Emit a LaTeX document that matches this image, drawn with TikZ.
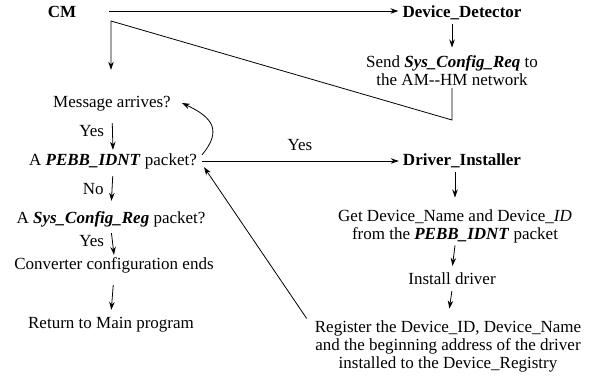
\documentclass[tikz,border=0pt]{standalone}
\usepackage{fontspec}
\setmainfont{Liberation Serif}
\usetikzlibrary{arrows.meta}
\newcommand{\bfit}[1]{\textbf{\textit{#1}}}
\begin{document}
\begin{tikzpicture}[x=1pt,y=-1pt,
  every node/.style={inner sep=2pt,font=\fontsize{17}{18}\selectfont},
  lbl/.style={text height=12pt,text depth=4pt},
  bold/.style={lbl,font=\fontsize{17}{18}\selectfont\bfseries},
  blk/.style={align=center,anchor=north},
  ln/.style={line width=0.8pt},
  arr/.style={ln,-{Stealth[length=8pt,width=5.5pt]}}]
\fill[white] (0,0) rectangle (596,381);
\useasboundingbox (0,0) rectangle (596,381);

% left column
\node[bold] (cm) at (62,13) {CM};
\node[lbl] (msg) at (112,103) {Message arrives?};
\node[lbl] (pebb) at (113,161) {A \bfit{PEBB\_IDNT} packet?};
\node[lbl] (sys) at (111,219) {A \bfit{Sys\_Config\_Reg} packet?};
\node[lbl] (conv) at (114,265) {Converter configuration ends};
\node[lbl] (ret) at (111,324) {Return to Main program};

% right column
\node[bold] (dd) at (462,13) {Device\_Detector};
\node[blk] (send) at (452,53.5) {Send \bfit{Sys\_Config\_Req} to\\the AM-{}-HM network};
\node[bold] (di) at (462,161) {Driver\_Installer};
\node[blk] (get) at (455,207.5) {Get Device\_Name and Device\_\textit{ID}\\from the \bfit{PEBB\_IDNT} packet};
\node[lbl] (inst) at (452,280) {Install driver};
\node[blk] (reg) at (448,318.5) {Register the Device\_ID, Device\_Name\\and the beginning address of the driver\\installed to the Device\_Registry};

% corners of the return path
\coordinate (r1) at (452,120);
\coordinate (r2) at (111,21);

% connectors
\draw[arr,shorten <=31pt,shorten >=2pt] ([yshift=2pt]cm.east) -- ([yshift=2pt]dd.west);
\draw[arr,shorten <=1pt,shorten >=6pt] (dd.south -| send.north) -- (send.north);
\draw[arr,shorten >=23pt] (send.south) -- (r1) -- (r2) -- (msg.north -| r2);

\draw[arr,shorten <=10pt,shorten >=1pt] (msg.south) -- (pebb.north) node[midway,left=6pt,lbl] {Yes};
\draw[arr,shorten <=5pt,shorten >=8pt] (pebb.south) -- (sys.north) node[midway,left=6pt,lbl] {No};
\draw[arr,shorten <=4pt,shorten >=0pt] (sys.south) -- (conv.north) node[midway,left=6pt,lbl] {Yes};
\draw[arr,shorten <=10pt,shorten >=4pt] (conv.south) -- (ret.north);

\draw[arr,shorten <=3pt,shorten >=2pt] (pebb.east) -- (di.west) node[midway,above=4pt,lbl] {Yes};
\draw[arr,looseness=1.5] ([xshift=3pt,yshift=-4pt]pebb.north east) to[out=50,in=-25] ([xshift=9pt]msg.east);

\draw[arr,shorten <=1pt,shorten >=10pt] (di.south -| get.north) -- (get.north);
\draw[arr,shorten >=4pt] (get.south) -- (inst.north);
\draw[arr,shorten <=1pt,shorten >=10pt] (inst.south) -- (reg.north);

\draw[arr] ([xshift=-6pt]reg.north west) -- ([xshift=5pt,yshift=4pt]pebb.south east);
\end{tikzpicture}
\end{document}
